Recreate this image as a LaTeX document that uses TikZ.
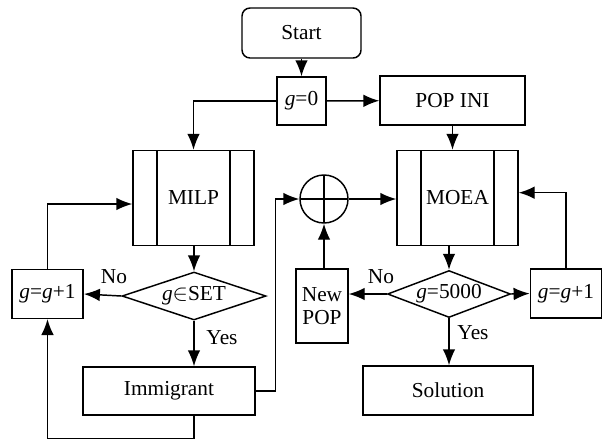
\documentclass[tikz,border=0pt]{standalone}
\usepackage{fontspec}
\setmainfont{Liberation Serif}
\usetikzlibrary{shapes.geometric,arrows.meta}

\tikzset{
	box/.style={draw,line width=1.1pt,inner sep=0.75pt,align=center,font=\fontsize{16}{17.5}\selectfont},
	proc/.style={box,minimum width=90.75pt,minimum height=71.25pt,
		path picture={\draw[line width=1.1pt] ([xshift=18pt]path picture bounding box.north west) -- ([xshift=18pt]path picture bounding box.south west)
			([xshift=-18pt]path picture bounding box.north east) -- ([xshift=-18pt]path picture bounding box.south east);}},
	decision/.style={box,diamond,inner sep=0pt,aspect=2.8},
	summing/.style={draw,line width=1.1pt,circle,minimum size=36pt,inner sep=0pt,
		path picture={\draw[line width=1.1pt] (path picture bounding box.north) -- (path picture bounding box.south)
			(path picture bounding box.west) -- (path picture bounding box.east);}},
	lbl/.style={inner sep=0.75pt,font=\fontsize{16}{17.5}\selectfont},
	flow/.style={line width=1.1pt,-{Latex[length=12pt,width=9.5pt]}}
}

\begin{document}
\begin{tikzpicture}[x=0.75pt,y=0.75pt,yscale=-1,xscale=1]
			\useasboundingbox (0,0) rectangle (605,440);

			% Nodes
			\node [box,rounded corners=6pt,minimum width=89.25pt,minimum height=37.5pt] (start) at (301.5,33) {Start};
			\node [box,minimum width=36.75pt,minimum height=36pt] (gzero) at (301.5,101) {\textit{g}=0};
			\node [box,minimum width=108.75pt,minimum height=36.75pt] (popini) at (452.5,100.5) {POP INI};
			\node [proc] (milp) at (193.5,198) {MILP};
			\node [proc] (moea) at (457.5,198) {MOEA};
			\node [summing] (oplus) at (324,199) {};
			\node [decision,minimum width=108pt,minimum height=36pt] (gset) at (194,296) {\textit{g}$\in$SET};
			\node [decision,minimum width=92.25pt,minimum height=35.25pt] (gmax) at (449,294) {\textit{g}=5000};
			\node [box,minimum width=53.5pt,minimum height=36.5pt] (incleft) at (47.5,294) {\textit{g}=\textit{g}+1};
			\node [box,minimum width=53.5pt,minimum height=36.5pt] (incright) at (566,293.5) {\textit{g}=\textit{g}+1};
			\node [box,minimum width=39pt,minimum height=55.5pt] (newpop) at (322,306) {New\\POP};
			\node [box,minimum width=129pt,minimum height=36pt] (immig) at (169,391) {Immigrant};
			\node [box,minimum width=127.5pt,minimum height=36.75pt] (sol) at (448,390.5) {Solution};

			% Text Node
			\node [lbl] (nol) at (114,277) {No};
			% Text Node
			\node [lbl] (yesl) at (222,338) {Yes};
			% Text Node
			\node [lbl] (nor) at (381,277) {No};
			% Text Node
			\node [lbl] (yesr) at (473,333) {Yes};

			%Straight Lines
			\draw [flow] (start) -- (gzero);
			\draw [flow] (gzero) -- (popini);
			\draw [flow] (gzero.west) -| (milp.north);
			\draw [flow] (popini) -- (popini |- moea.north);
			\draw [flow] (milp.south -| gset) -- (gset.north);
			\draw [flow] (gset.west) -- (incleft.east);
			\draw [flow] (gset.south) -- (gset.south |- immig.north);
			\draw [flow] (incleft.north) |- ([yshift=4.5pt]milp.west);
			\draw [flow] (immig.east) -- ++(20,0) |- (oplus.west);
			\draw [flow] (immig.south -| gset) -- ++(0,23) -| (incleft.south);

			\draw [flow] (oplus) -- (oplus -| moea.west);
			\draw [flow] (moea.south -| gmax) -- (gmax.north);
			\draw [flow] (gmax.west) -- (newpop.east |- gmax.west);
			\draw [flow] (newpop.north -| oplus) -- (oplus.south);
			\draw [flow] (gmax.east) -- (incright.west);
			\draw [flow] (incright.north) |- ([yshift=-4pt]moea.east);
			\draw [flow] (gmax.south) -- (gmax.south |- sol.north);
\end{tikzpicture}
\end{document}
